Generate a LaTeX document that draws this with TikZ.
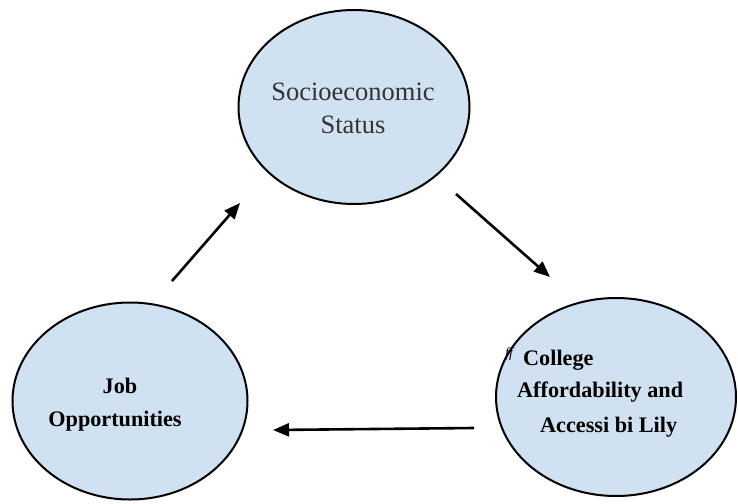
\documentclass[tikz,border=0pt]{standalone}
\usepackage{fontspec}
\setmainfont{Liberation Serif}
\usetikzlibrary{shapes.geometric,arrows.meta}
\definecolor{cfill}{HTML}{D0E1F2}
\definecolor{ctext}{HTML}{333333}
\tikzset{
  circ/.style={ellipse, draw=black, line width=2pt, fill=cfill, inner sep=0pt},
  reglbl/.style={anchor=base, inner sep=0pt, text=ctext, font=\fontsize{26.5}{32}\selectfont},
  boldlbl/.style={anchor=base west, inner sep=0pt, text=black, font=\fontsize{22.2}{27}\selectfont\bfseries},
  flow/.style={line width=2.6pt, -{Triangle[length=16pt,width=13pt]}}
}
\begin{document}
\begin{tikzpicture}[x=1pt,y=-1pt]
\useasboundingbox (0,0) rectangle (738,503);
\node[circ, minimum width=231pt, minimum height=194pt] (ses) at (354,107) {};
\node[circ, minimum width=240pt, minimum height=198pt] (cost) at (616,397) {};
\node[circ, minimum width=235pt, minimum height=197pt] (job) at (130,401) {};
% labels
\node[reglbl] (ses1) at (353,100) {Socioeconomic};
\node[reglbl] (ses2) at (353,133) {Status};
\node[boldlbl] (c0) at (505,357) {\fontsize{14}{14}\selectfont\mdseries\itshape ff};
\node[boldlbl] (c1) at (523,365) {College};
\node[boldlbl] (c2) at (517,397) {Affordability and};
\node[boldlbl] (c3) at (540,432) {Accessi bi Lily};
\node[boldlbl, anchor=base] (j1) at (120,393) {Job};
\node[boldlbl, anchor=base] (j2) at (115,426) {Opportunities};
% arrows
\coordinate (a1s) at (172,281);
\coordinate (a1e) at (240,203);
\coordinate (a2s) at (456,194);
\coordinate (a2e) at (550,277);
\coordinate (a3s) at (474,428);
\coordinate (a3e) at (273,430);
\draw[flow] (a1s) -- (a1e);
\draw[flow] (a2s) -- (a2e);
\draw[flow] (a3s) -- (a3e);
\end{tikzpicture}
\end{document}
